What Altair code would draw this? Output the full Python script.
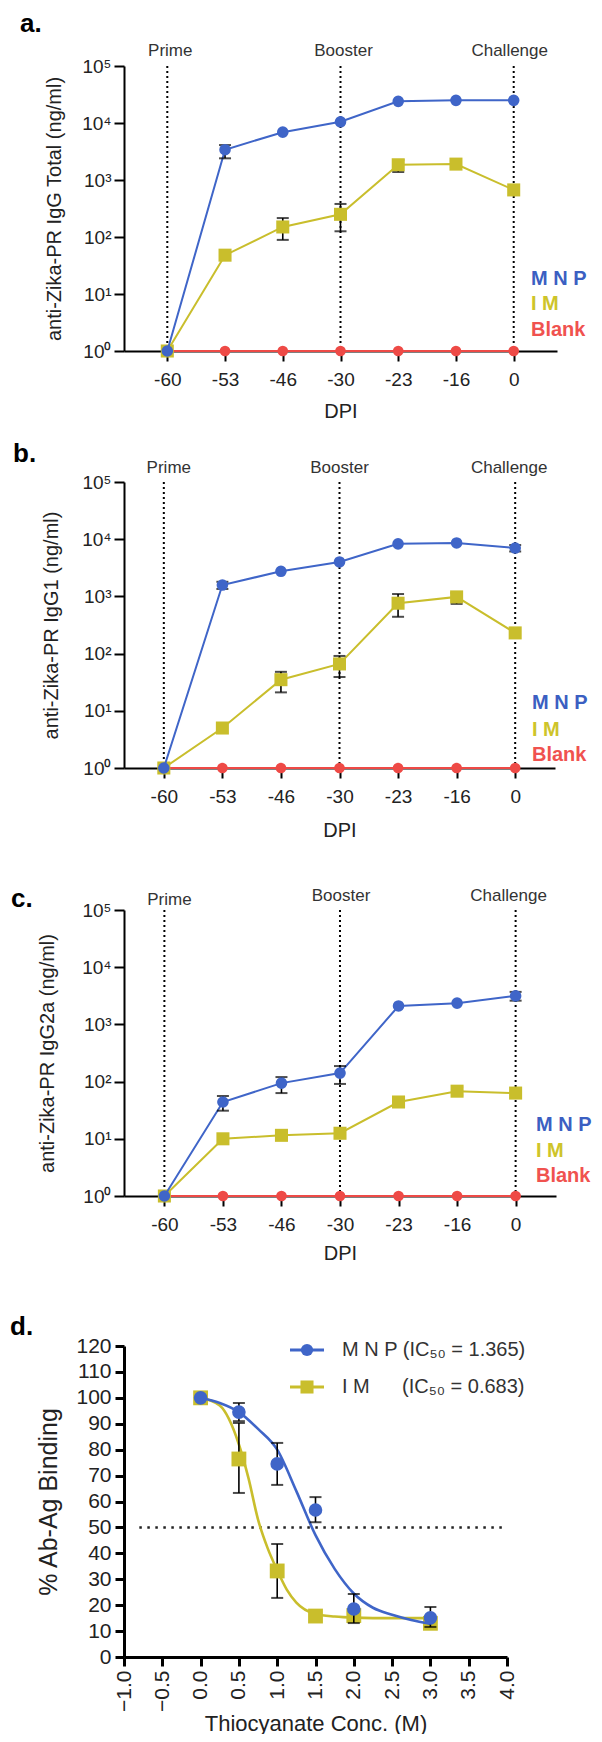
import altair as alt
import pandas as pd

FONT = "Liberation Sans"
INK = "#222222"
BLUE = "#3F65C8"
YELLOW = "#C9BE2C"
RED = "#EE4A46"
LEG_COLORS = ["#3B5FC2", "#CEC42A", "#F0524F"]

# ---------------- data ----------------
DPI = ["-60", "-53", "-46", "-30", "-23", "-16", "0"]
EVENTS = ["Prime", "Booster", "Challenge"]
EVENT_DPI = ["-60", "-30", "0"]
LEGEND = ["M N P", "I M", "Blank"]
Y_TICKS = [1, 10, 100, 1000, 10000, 100000]
Y_SUPS = ["⁰", "¹", "²", "³", "⁴", "⁵"]

# panel a : IgG Total
A_MNP = [1, 3400, 6900, 10500, 24000, 25000, 25000]
A_MNP_LO = [None, 2400, None, None, None, None, None]
A_MNP_HI = [None, 4100, None, None, None, None, None]
A_IM = [1, 48, 150, 250, 1850, 1900, 670]
A_IM_LO = [None, None, 89, 126, 1380, 1650, None]
A_IM_HI = [None, None, 215, 380, 2240, 2150, None]
A_BLANK = [1, 1, 1, 1, 1, 1, 1]

# panel b : IgG1
B_MNP = [1, 1580, 2750, 4000, 8300, 8600, 7000]
B_MNP_LO = [None, 1350, None, None, None, None, 6100]
B_MNP_HI = [None, 1800, None, None, None, None, 7900]
B_IM = [1, 5, 35, 66, 760, 980, 230]
B_IM_LO = [None, None, 21, 39, 440, 740, None]
B_IM_HI = [None, None, 48, 91, 1100, 1150, None]
B_BLANK = [1, 1, 1, 1, 1, 1, 1]

# panel c : IgG2a
C_MNP = [1, 44, 94, 141, 2100, 2350, 3150]
C_MNP_LO = [None, 31, 63, 91, None, None, 2600]
C_MNP_HI = [None, 56, 120, 187, None, None, 3700]
C_IM = [1, 10, 11.5, 12.5, 44, 68, 63]
C_IM_LO = [None, None, None, 10.8, None, 58, None]
C_IM_HI = [None, None, None, 14.5, None, 80, None]
C_BLANK = [1, 1, 1, 1, 1, 1, 1]

# panel d : avidity
CONC = [0, 0.5, 1.0, 1.5, 2.0, 3.0]
D_MNP = [100, 94.5, 74.5, 56.7, 18.5, 15.1]
D_MNP_LO = [100, 91, 66.4, 52, 13.1, 11.6]
D_MNP_HI = [100, 98, 82.6, 61.7, 24.3, 19.3]
D_IM = [100, 76.4, 33.2, 15.8, 16, 13]
D_IM_LO = [100, 63.3, 22.8, 14, 14, 12]
D_IM_HI = [100, 90.3, 43.6, 18, 17.5, 14.5]
CURVE_X_MNP = [0, 0.25, 0.5, 0.75, 1.0, 1.25, 1.5, 1.75, 2.0, 2.25, 2.5, 2.75, 3.0]
CURVE_Y_MNP = [100, 98, 94.5, 88, 80, 64, 47, 34, 24.5, 19, 16.3, 14.3, 12.8]
CURVE_X_IM = [0, 0.25, 0.5, 0.625, 0.75, 0.875, 1.0, 1.125, 1.25, 1.5, 1.75, 2.0, 2.5, 3.0]
CURVE_Y_IM = [100, 97, 82, 69, 53, 42, 33.5, 26, 21, 16.6, 15.6, 15.2, 15, 15]
CONC_TICKS = [-1.0, -0.5, 0.0, 0.5, 1.0, 1.5, 2.0, 2.5, 3.0, 3.5, 4.0]
PCT_TICKS = [0, 10, 20, 30, 40, 50, 60, 70, 80, 90, 100, 110, 120]
REF_LEVEL = 50
REF_EXTENT = [-0.8, 3.95]
D_LEGEND = ["M N P (IC₅₀ = 1.365)", "I M", "(IC₅₀ = 0.683)"]

SUP_EXPR = " : ".join(
    f"datum.value == {v} ? '10{s}'" for v, s in zip(Y_TICKS, Y_SUPS)) + " : ''"


def one():
    return alt.Data(values=[{"k": 0}])


def spacer(x, y1, y2):
    return alt.Chart(one()).mark_rule(opacity=0, strokeOpacity=0).encode(
        x=alt.value(x), y=alt.value(y1), y2=alt.value(y2))


def label(text, x, y, size, color=INK, weight="normal", align="left",
          baseline="middle"):
    return alt.Chart(one()).mark_text(
        text=text, fontSize=size, color=color, fontWeight=weight,
        align=align, baseline=baseline, font=FONT).encode(
        x=alt.value(x), y=alt.value(y))


def time_panel(p, series):
    W, H = p["W"], p["H"]
    x_axis = alt.Axis(title="DPI", labelAngle=0, labelFontSize=19,
                      titleFontSize=20, tickSize=10, labelPadding=9,
                      domainWidth=2, tickWidth=2, titleY=p["xty"],
                      titleBaseline="middle")
    y_axis = alt.Axis(title=p["ytitle"], values=Y_TICKS, labelExpr=SUP_EXPR,
                      labelFontSize=19, tickSize=10, labelPadding=3,
                      domainWidth=2, tickWidth=2, titleFontSize=20,
                      titleAngle=270, titleX=p["ytx"], titleY=H / 2,
                      titleAlign="center", titleBaseline="middle",
                      labelOverlap=False)
    xs = alt.Scale(type="point", domain=DPI, padding=p["pad"])
    ys = alt.Scale(type="log", domain=[1, 100000], nice=False)
    X = alt.X("dpi:O", scale=xs, axis=x_axis)
    Y = alt.Y("value:Q", scale=ys, axis=y_axis)

    layers = [spacer(*p["spacer"])]
    ev = pd.DataFrame({"dpi": EVENT_DPI, "event": EVENTS})
    layers.append(alt.Chart(ev).mark_rule(
        color="black", strokeWidth=2, strokeDash=[2, 3]).encode(x=X))

    for vals, lo, hi, color, shape, size in series:
        df = pd.DataFrame({"dpi": DPI, "value": vals, "lo": lo, "hi": hi})
        base = alt.Chart(df)
        layers.append(base.mark_line(color=color, strokeWidth=2).encode(x=X, y=Y))
        if any(v is not None for v in lo):
            err = base.transform_filter("isValid(datum.lo)")
            layers.append(err.mark_rule(color="black", strokeWidth=1.6).encode(
                x=X, y=alt.Y("lo:Q", scale=ys, axis=y_axis), y2="hi:Q"))
            for f in ["lo", "hi"]:
                layers.append(err.mark_tick(
                    orient="horizontal", size=12, thickness=2, color="black").encode(
                    x=X, y=alt.Y(f"{f}:Q", scale=ys, axis=y_axis)))
        layers.append(base.mark_point(
            shape=shape, filled=True, size=size, color=color, opacity=1).encode(
            x=X, y=Y))

    for i, (evn, d) in enumerate(zip(EVENTS, EVENT_DPI)):
        layers.append(alt.Chart(pd.DataFrame({"dpi": [d], "event": [evn]})).mark_text(
            fontSize=17, color="#333333", dx=p["evdx"][i], baseline="middle",
            font=FONT).encode(x=X, y=alt.value(p["evy"][i]), text="event:N"))

    layers.append(label(p["letter"], p["lx"], p["ly"], 26, color="black",
                        weight="bold", baseline="alphabetic"))
    for name, c, yy in zip(LEGEND, LEG_COLORS, p["legy"]):
        layers.append(label(name, p["legx"], yy, 20, color=c, weight="bold"))

    return alt.layer(*layers).properties(width=W, height=H)


def binding_panel():
    W, H = 383, 311
    xs = alt.Scale(domain=[-1, 4], nice=False, zero=False)
    ys = alt.Scale(domain=[0, 120], nice=False)
    xa = alt.Axis(title="Thiocyanate Conc. (M)", values=CONC_TICKS, format=".1f",
                  labelAngle=270, labelFontSize=21, labelFlush=False,
                  labelOverlap=False, tickSize=9, labelPadding=4, domainWidth=3,
                  tickWidth=3, titleFontSize=22, titleY=66, titleBaseline="middle")
    ya = alt.Axis(title="% Ab-Ag Binding", values=PCT_TICKS, labelFontSize=21,
                  labelOverlap=False, tickSize=9, labelPadding=4, domainWidth=3,
                  tickWidth=3, titleFontSize=25, titleAngle=270, titleX=-76,
                  titleY=H / 2, titleAlign="center", titleBaseline="middle")
    X = lambda f: alt.X(f, scale=xs, axis=xa)
    Y = lambda f: alt.Y(f, scale=ys, axis=ya)

    layers = [spacer(-116, -66, 380)]
    ref = pd.DataFrame({"x": [REF_EXTENT[0]], "x2": [REF_EXTENT[1]], "y": [REF_LEVEL]})
    layers.append(alt.Chart(ref).mark_rule(
        color="#222222", strokeWidth=2.5, strokeDash=[2.5, 5.5]).encode(
        x=X("x:Q"), x2="x2:Q", y=Y("y:Q")))

    groups = [
        (CURVE_X_IM, CURVE_Y_IM, D_IM, D_IM_LO, D_IM_HI, YELLOW, "square", 220),
        (CURVE_X_MNP, CURVE_Y_MNP, D_MNP, D_MNP_LO, D_MNP_HI, BLUE, "circle", 185),
    ]
    for cx, cy, v, lo, hi, color, shape, size in groups:
        cdf = pd.DataFrame({"conc": cx, "value": cy})
        layers.append(alt.Chart(cdf).mark_line(
            color=color, strokeWidth=2.6, interpolate="monotone").encode(
            x=X("conc:Q"), y=Y("value:Q")))
        pdf = pd.DataFrame({"conc": CONC, "value": v, "lo": lo, "hi": hi})
        base = alt.Chart(pdf)
        layers.append(base.mark_rule(color="black", strokeWidth=1.6).encode(
            x=X("conc:Q"), y=Y("lo:Q"), y2="hi:Q"))
        for f in ["lo", "hi"]:
            layers.append(base.mark_tick(orient="horizontal", size=12, thickness=2,
                                         color="black").encode(
                x=X("conc:Q"), y=Y(f"{f}:Q")))
        layers.append(base.mark_point(shape=shape, filled=True, size=size,
                                      color=color, opacity=1).encode(
            x=X("conc:Q"), y=Y("value:Q")))

    # legend
    for yy, color, shape, size in [(4, BLUE, "circle", 150), (41, YELLOW, "square", 170)]:
        layers.append(alt.Chart(one()).mark_rule(color=color, strokeWidth=3).encode(
            x=alt.value(166), x2=alt.value(200), y=alt.value(yy)))
        layers.append(alt.Chart(one()).mark_point(
            shape=shape, filled=True, size=size, color=color, opacity=1).encode(
            x=alt.value(183), y=alt.value(yy)))
    layers.append(label(D_LEGEND[0], 218, 4, 20, color="#333333"))
    layers.append(label(D_LEGEND[1], 218, 41, 20, color="#333333"))
    layers.append(label(D_LEGEND[2], 278, 41, 20, color="#333333"))
    layers.append(label("d.", -114, -11, 26, color="black", weight="bold",
                        baseline="alphabetic"))
    return alt.layer(*layers).properties(width=W, height=H)


PA = dict(W=433, H=285, pad=0.75, spacer=(-106, -58, 359), ytx=-70, xty=60,
          evy=[-15, -15, -15], evdx=[3, 3, -4], letter="a.", lx=-104, ly=-34,
          legx=407, legy=[213, 238, 264],
          ytitle="anti-Zika-PR IgG Total (ng/ml)")
PB = dict(W=431, H=286, pad=0.68, spacer=(-115, -57, 368), ytx=-73, xty=62,
          evy=[-14, -14, -14], evdx=[5, 0, -6], letter="b.", lx=-111, ly=-20,
          legx=408, legy=[221, 248, 273],
          ytitle="anti-Zika-PR IgG1 (ng/ml)")
PC = dict(W=432, H=286, pad=0.69, spacer=(-116, -60, 370), ytx=-77, xty=57,
          evy=[-10, -14, -14], evdx=[5, 1, -7], letter="c.", lx=-113, ly=-3,
          legx=412, legy=[215, 241, 266],
          ytitle="anti-Zika-PR IgG2a (ng/ml)")


def series(mnp, mlo, mhi, im, ilo, ihi, blank):
    return [
        (blank, [None] * 7, [None] * 7, RED, "circle", 115),
        (im, ilo, ihi, YELLOW, "square", 170),
        (mnp, mlo, mhi, BLUE, "circle", 135),
    ]


pa = time_panel(PA, series(A_MNP, A_MNP_LO, A_MNP_HI, A_IM, A_IM_LO, A_IM_HI, A_BLANK))
pb = time_panel(PB, series(B_MNP, B_MNP_LO, B_MNP_HI, B_IM, B_IM_LO, B_IM_HI, B_BLANK))
pc = time_panel(PC, series(C_MNP, C_MNP_LO, C_MNP_HI, C_IM, C_IM_LO, C_IM_HI, C_BLANK))
pd_ = binding_panel()

chart = alt.vconcat(pa, pb, pc, pd_, spacing=0).properties(
    padding=0, background="white"
).configure_view(stroke=None).configure_axis(
    labelFont=FONT, titleFont=FONT, grid=False, domainColor="black",
    tickColor="black", labelColor=INK, titleColor=INK, titleFontWeight="normal"
).configure_text(font=FONT)

chart.save("out.html", embed_options={"renderer": "svg", "actions": False})
